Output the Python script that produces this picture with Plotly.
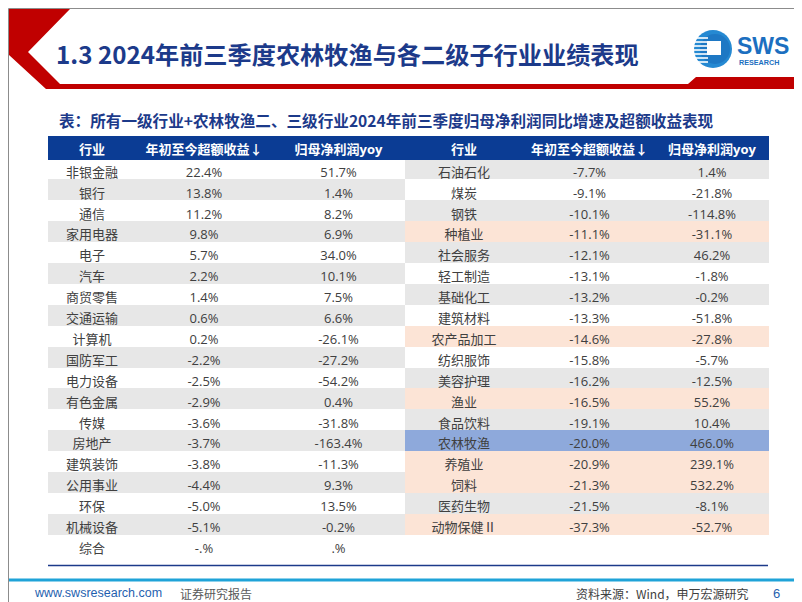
import plotly.graph_objects as go

# ---------------- data ----------------
header_labels = ["行业", "年初至今超额收益↓", "归母净利润yoy"]

left_ind = ["非银金融", "银行", "通信", "家用电器", "电子", "汽车", "商贸零售", "交通运输", "计算机",
            "国防军工", "电力设备", "有色金属", "传媒", "房地产", "建筑装饰", "公用事业", "环保",
            "机械设备", "综合"]
left_ret = [22.4, 13.8, 11.2, 9.8, 5.7, 2.2, 1.4, 0.6, 0.2, -2.2, -2.5, -2.9, -3.6, -3.7, -3.8,
            -4.4, -5.0, -5.1, None]
left_yoy = [51.7, 1.4, 8.2, 6.9, 34.0, 10.1, 7.5, 6.6, -26.1, -27.2, -54.2, 0.4, -31.8, -163.4,
            -11.3, 9.3, 13.5, -0.2, None]

right_ind = ["石油石化", "煤炭", "钢铁", "种植业", "社会服务", "轻工制造", "基础化工", "建筑材料",
             "农产品加工", "纺织服饰", "美容护理", "渔业", "食品饮料", "农林牧渔", "养殖业", "饲料",
             "医药生物", "动物保健Ⅱ"]
right_ret = [-7.7, -9.1, -10.1, -11.1, -12.1, -13.1, -13.2, -13.3, -14.6, -15.8, -16.2, -16.5,
             -19.1, -20.0, -20.9, -21.3, -21.5, -37.3]
right_yoy = [1.4, -21.8, -114.8, -31.1, 46.2, -1.8, -0.2, -51.8, -27.8, -5.7, -12.5, 55.2, 10.4,
             466.0, 239.1, 532.2, -8.1, -52.7]

agri_sub = ["种植业", "农产品加工", "渔业", "养殖业", "饲料", "动物保健Ⅱ"]
agri_main = ["农林牧渔"]

title = "1.3 2024年前三季度农林牧渔与各二级子行业业绩表现"
subtitle = "表：所有一级行业+农林牧渔二、三级行业2024年前三季度归母净利润同比增速及超额收益表现"
footer_url = "www.swsresearch.com"
footer_tag = "证券研究报告"
footer_src = "资料来源：Wind，申万宏源研究"
page_no = "6"

# ---------------- styles ----------------
HDR = "#0B3C94"
GRAY = "#E7E7E7"
WHITE = "#FFFFFF"
PEACH = "#FCE4D6"
BLUE_HI = "#8EA9DB"
TXT = "#404040"
NAVY = "#1C3A8A"
FONT = "Open Sans, Noto Sans CJK SC, sans-serif"
CJK = "Noto Sans CJK SC, sans-serif"
W, H = 802, 602


def fmt(v, missing):
    return missing if v is None else f"{v:.1f}%"


def px(x):
    return x / W


def py(y):
    return 1 - y / H


def path(points):
    return "M" + " L".join(f"{px(x):.5f},{py(y):.5f}" for x, y in points) + " Z"


nrows = len(left_ind)
col_l1 = left_ind
col_l2 = [fmt(v, "-.%") for v in left_ret]
col_l3 = [fmt(v, ".%") for v in left_yoy]
pad = nrows - len(right_ind)
col_r1 = right_ind + [""] * pad
col_r2 = [fmt(v, "") for v in right_ret] + [""] * pad
col_r3 = [fmt(v, "") for v in right_yoy] + [""] * pad

left_fill = [WHITE if i % 2 == 0 else GRAY for i in range(nrows)]
right_fill = []
for i in range(nrows):
    if i >= len(right_ind):
        right_fill.append(WHITE)
        continue
    name = right_ind[i]
    if name in agri_main:
        right_fill.append(BLUE_HI)
    elif name in agri_sub:
        right_fill.append(PEACH)
    else:
        right_fill.append(GRAY if i % 2 == 0 else WHITE)

fills = [left_fill] * 3 + [right_fill] * 3

# plotly places the table body ~9px below the domain top
tbl_left, tbl_right, tbl_top, tbl_bottom = 40, 760, 128, 562

fig = go.Figure()
fig.add_trace(go.Table(
    domain=dict(x=[px(tbl_left), px(tbl_right)], y=[py(tbl_bottom), py(tbl_top)]),
    columnwidth=[88, 136, 133, 118, 133, 112],
    header=dict(
        values=header_labels * 2,
        fill_color=HDR, line=dict(color=HDR, width=1),
        font=dict(color="white", size=13, family=FONT, weight="bold"),
        height=23, align="center",
    ),
    cells=dict(
        values=[col_l1, col_l2, col_l3, col_r1, col_r2, col_r3],
        fill_color=fills, line=dict(color=fills, width=1),
        font=dict(color=TXT, size=13, family=FONT),
        height=20.9, align="center",
    ),
))

shapes = []
P = dict(xref="paper", yref="paper")
# slide border
shapes.append(dict(type="rect", x0=px(0.5), y0=py(0.5), x1=px(W - 0.5), y1=py(H - 0.5),
                   line=dict(color="#8C8C8C", width=1), fillcolor="rgba(0,0,0,0)", **P))
# red chevron + band
shapes.append(dict(type="path",
                   path=path([(1, 1), (62, 1), (20, 44), (52, 76), (680, 76), (688, 69),
                              (801, 69), (801, 81), (38, 81), (1, 47)]),
                   fillcolor="#C00000", line=dict(width=0), **P))
# logo
shapes.append(dict(type="circle", x0=px(686), y0=py(60), x1=px(724), y1=py(22),
                   fillcolor="#2589D2", line=dict(width=0), **P))
shapes.append(dict(type="circle", x0=px(692), y0=py(56), x1=px(722), y1=py(26),
                   fillcolor="#1E78C4", line=dict(width=0), **P))
for yy in [30, 34, 38, 42, 46, 50, 54]:
    shapes.append(dict(type="line", x0=px(684), x1=px(700), y0=py(yy), y1=py(yy),
                       line=dict(color="white", width=1.6), **P))
shapes.append(dict(type="rect", x0=px(699), y0=py(47), x1=px(713), y1=py(33),
                   fillcolor="white", line=dict(width=0), **P))
# table bottom line
shapes.append(dict(type="line", x0=px(tbl_left), x1=px(tbl_right), y0=py(557.5), y1=py(557.5),
                   line=dict(color=NAVY, width=1.6), **P))
# footer cyan line
shapes.append(dict(type="line", x0=px(1), x1=px(W - 1), y0=py(572), y1=py(572),
                   line=dict(color="#1FA3D8", width=3), **P))

ann = []


def add_text(x, y, text, size, color, family=CJK, xanchor="left", weight="normal"):
    ann.append(dict(x=px(x), y=py(y), xref="paper", yref="paper", text=text,
                    xanchor=xanchor, yanchor="middle", showarrow=False,
                    font=dict(family=family, size=size, color=color, weight=weight)))


add_text(46, 46, title, 24.2, NAVY, weight="bold")
add_text(49, 112, subtitle, 15.6, NAVY, weight="bold")
add_text(727, 38, "SWS", 23, "#1C6FC0", "Liberation Sans, Arial", weight="bold")
add_text(729, 54, "RESEARCH", 7.2, "#1C6FC0", "Liberation Sans, Arial", weight="bold")
add_text(24, 585, footer_url, 12.5, "#1F5FAF", "Liberation Sans, Arial")
add_text(170, 585, footer_tag, 12, "#595959")
add_text(743, 585, footer_src, 12, "#404040", xanchor="right")
add_text(768, 585, page_no, 13, "#1F5FAF", "Liberation Sans, Arial", xanchor="center")

fig.update_layout(
    width=W, height=H, margin=dict(l=0, r=0, t=0, b=0),
    paper_bgcolor="white", showlegend=False,
    shapes=shapes, annotations=ann,
)
fig.write_html("out.html")
